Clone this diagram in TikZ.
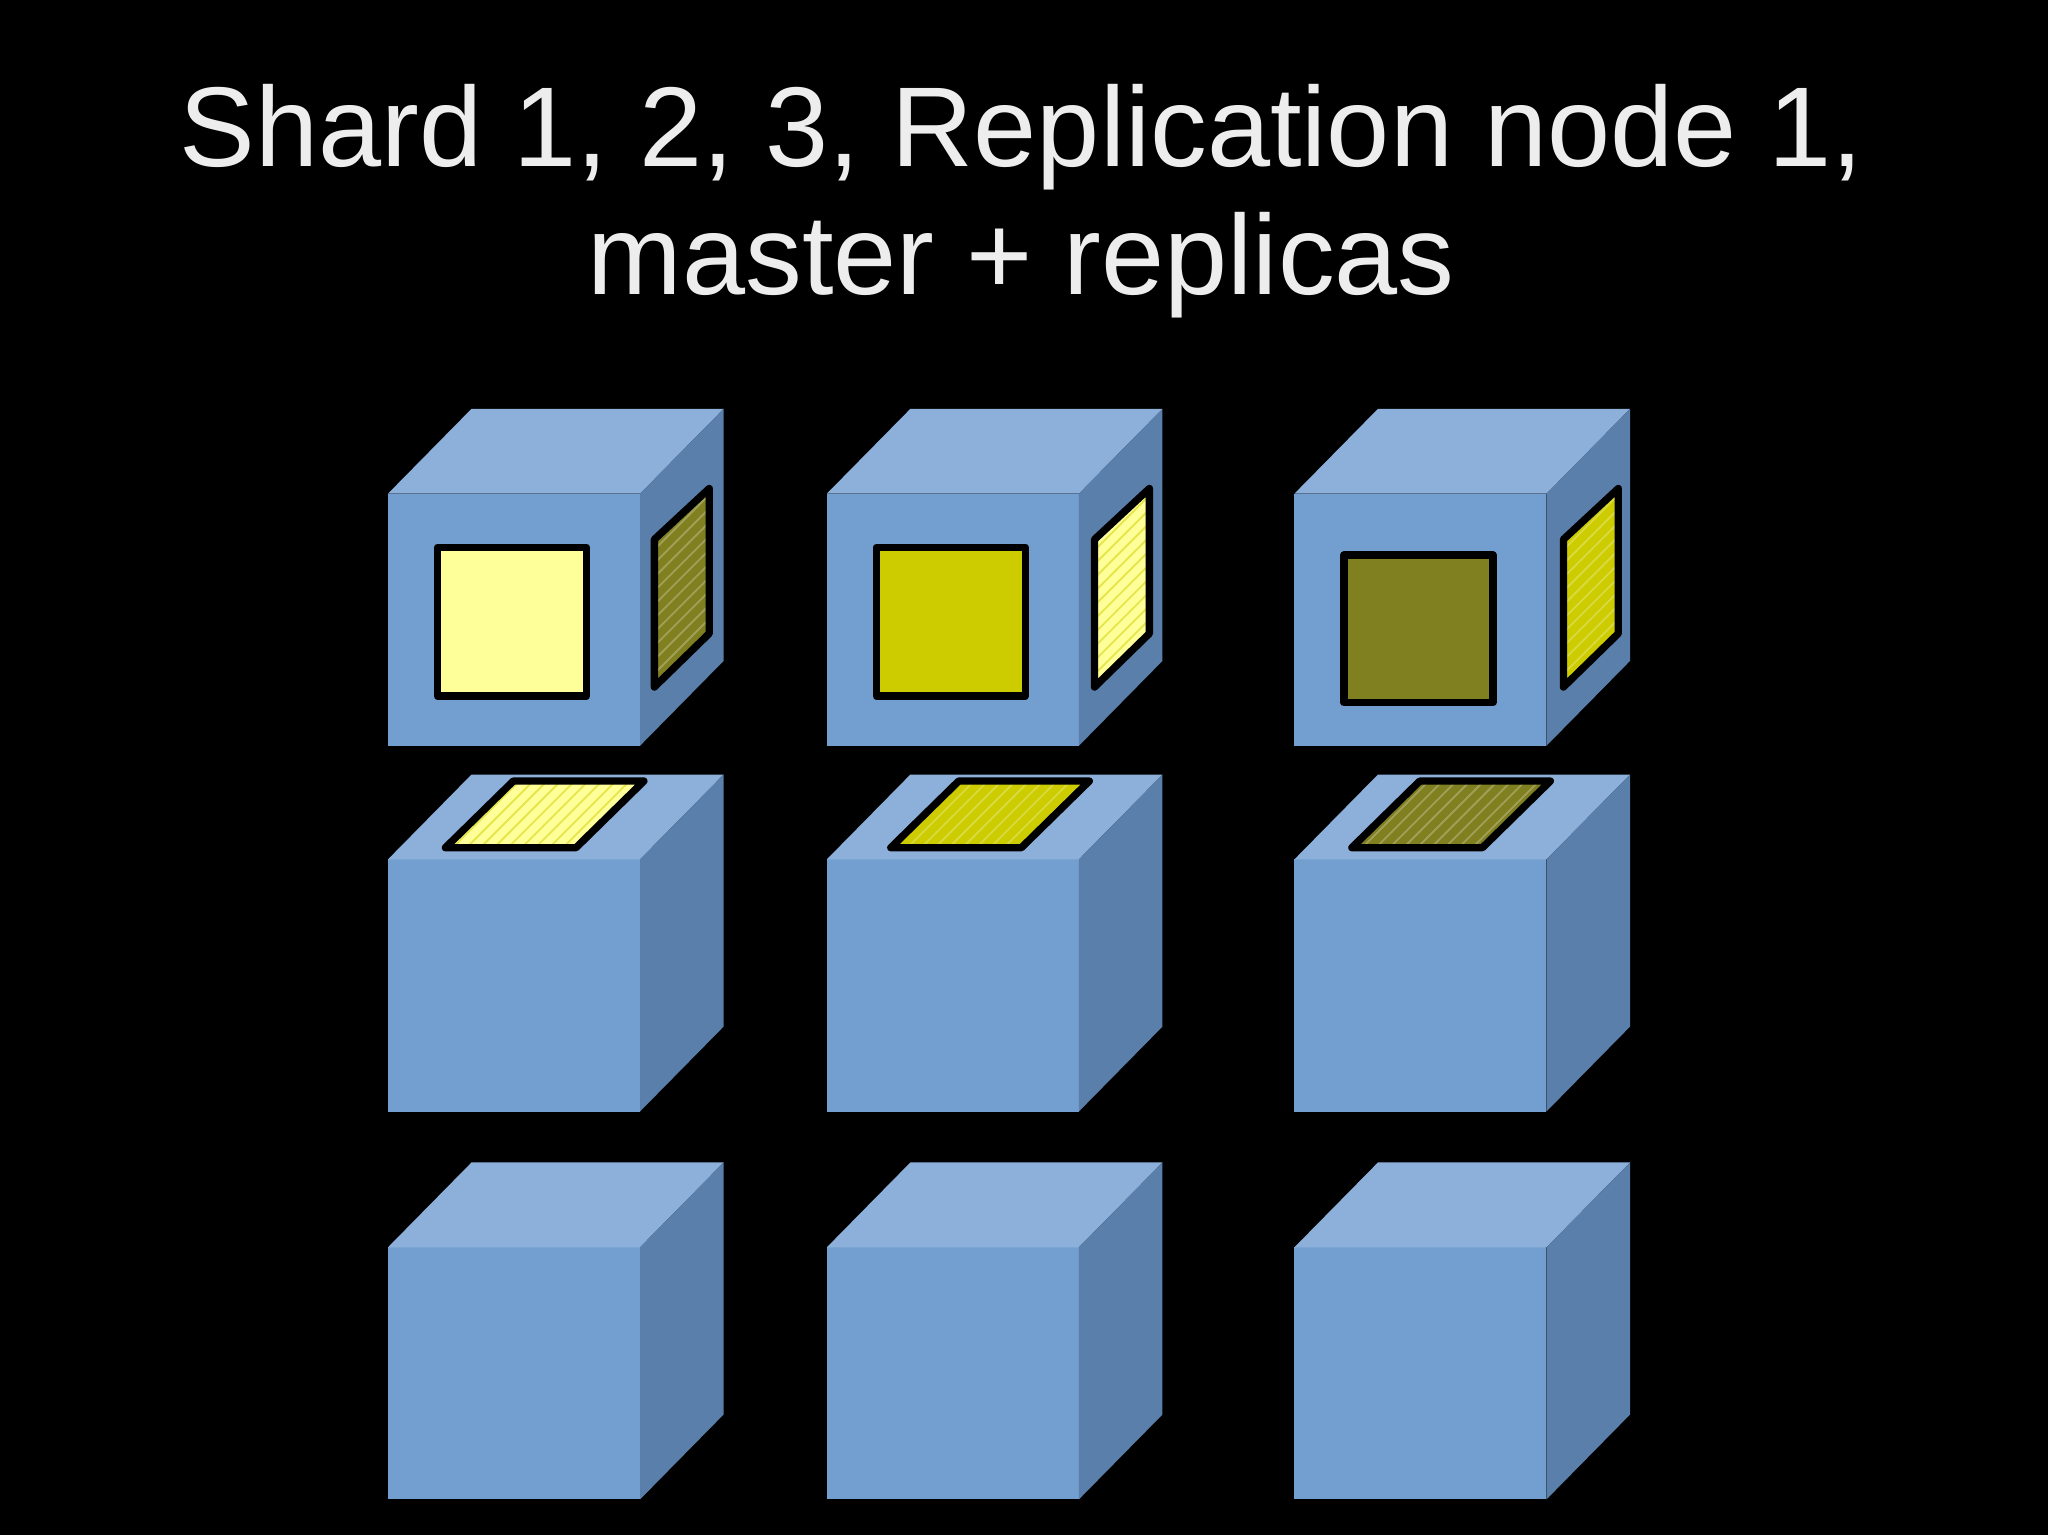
\documentclass[tikz,border=0pt]{standalone}
\usepackage{fontspec}
\setmainfont{Liberation Sans}
\usetikzlibrary{patterns}
\definecolor{cfront}{HTML}{729FCF}
\definecolor{ctop}{HTML}{8DB0DB}
\definecolor{cside}{HTML}{5B7FAB}
\definecolor{ylight}{HTML}{FFFF99}
\definecolor{ymid}{HTML}{CCCC00}
\definecolor{ydark}{HTML}{808020}
\tikzset{
  front/.style={fill=cfront},
  topf/.style={fill=ctop},
  sidef/.style={fill=cside},
  chip/.style={draw=black,line width=1.6pt,line join=round},
}
\newcommand{\mycube}[2]{%
  \fill[front] (#1,#2) rectangle ++(193,193);
  \fill[topf] (#1,#2) -- ++(64,-65) -- ++(193,0) -- ++(-64,65) -- cycle;
  \fill[sidef] (#1+193,#2) -- ++(64,-65) -- ++(0,193) -- ++(-64,65) -- cycle;
}
\begin{document}
\begin{tikzpicture}[x=0.01cm,y=-0.01cm]
\fill[black] (0,0) rectangle (1568,1175);
\useasboundingbox (0,0) rectangle (1568,1175);
\node[text=white!93!black,align=center,font=\fontsize{24.7pt}{28pt}\selectfont] (title) at (782,154) {Shard 1, 2, 3, Replication node 1,\\master + replicas};
\foreach \x in {297,633,991}{\foreach \y in {378,658,955}{\mycube{\x}{\y}}}
% top row front squares
\draw[chip,fill=ylight] (335,419) rectangle (449,533);
\draw[chip,fill=ymid] (671,419) rectangle (785,533);
\draw[chip,fill=ydark] (1029,425) rectangle (1143,538);
% side parallelograms
\foreach \x/\c/\p in {501/ydark/white!25!ydark,838/ylight/ymid!50!ylight,1197/ymid/white!25!ymid}{
  \fill[\c] (\x,526) -- (\x,413) -- (\x+42,374) -- (\x+42,485) -- cycle;
  \fill[pattern=north east lines,pattern color=\p] (\x,526) -- (\x,413) -- (\x+42,374) -- (\x+42,485) -- cycle;
  \draw[chip] (\x,526) -- (\x,413) -- (\x+42,374) -- (\x+42,485) -- cycle;
}
% middle row top parallelograms
\foreach \x/\c/\p in {341/ylight/ymid!50!ylight,682/ymid/white!25!ymid,1035/ydark/white!25!ydark}{
  \fill[\c] (\x,649) -- (\x+100,649) -- (\x+152,598) -- (\x+52,598) -- cycle;
  \fill[pattern=north east lines,pattern color=\p] (\x,649) -- (\x+100,649) -- (\x+152,598) -- (\x+52,598) -- cycle;
  \draw[chip] (\x,649) -- (\x+100,649) -- (\x+152,598) -- (\x+52,598) -- cycle;
}
\end{tikzpicture}
\end{document}
